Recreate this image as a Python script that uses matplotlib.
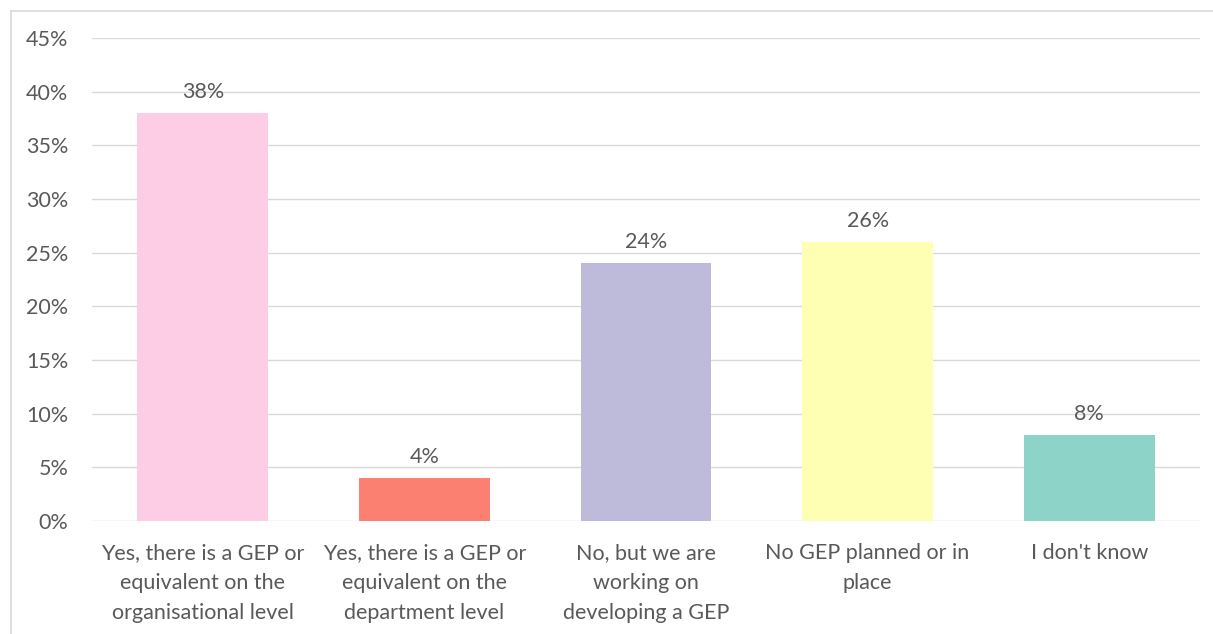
import matplotlib
matplotlib.use("Agg")
import matplotlib.pyplot as plt
from matplotlib.lines import Line2D

categories = [
    "Yes, there is a GEP or\nequivalent on the\norganisational level",
    "Yes, there is a GEP or\nequivalent on the\ndepartment level",
    "No, but we are\nworking on\ndeveloping a GEP",
    "No GEP planned or in\nplace",
    "I don't know",
]
values = [38, 4, 24, 26, 8]
colors = ["#fccde5", "#fb8072", "#bebada", "#ffffb3", "#8dd3c7"]
yticks = [0, 5, 10, 15, 20, 25, 30, 35, 40, 45]

plt.rcParams["font.family"] = ["Lato", "DejaVu Sans"]
text_color = "#595959"
grid_color = "#d9d9d9"
fs = 15.5

W, H = 1213, 634
fig = plt.figure(figsize=(W / 100, H / 100), dpi=100)
ax = fig.add_axes([92 / W, 1 - 521 / H, (1200 - 92) / W, (521 - 38) / H])

x = list(range(len(categories)))
bars = ax.bar(x, values, width=0.59, color=colors, zorder=3)

for xi, v in zip(x, values):
    ax.annotate(f"{v}%", (xi, v), xytext=(0, 8), textcoords="offset points",
                ha="center", va="bottom", fontsize=fs, color=text_color)

ax.set_xlim(-0.5, len(categories) - 0.5)
ax.set_ylim(0, 45)
ax.set_yticks(yticks)
ax.set_yticklabels([f"{t}%" for t in yticks], fontsize=fs, color=text_color)
ax.set_xticks(x)
ax.set_xticklabels(categories, fontsize=fs, color=text_color, linespacing=1.63)
ax.tick_params(axis="both", length=0)
ax.tick_params(axis="y", pad=17)
ax.tick_params(axis="x", pad=16)

ax.yaxis.grid(True, color=grid_color, linewidth=1, zorder=0)
for s in ax.spines.values():
    s.set_visible(False)

# outer frame (left and top edges)
fig.add_artist(Line2D([11 / W, 11 / W], [0, 1 - 11 / H], transform=fig.transFigure,
                      color=grid_color, linewidth=1.2))
fig.add_artist(Line2D([11 / W, 1], [1 - 11 / H, 1 - 11 / H], transform=fig.transFigure,
                      color=grid_color, linewidth=1.2))

fig.savefig("out.png", dpi=100, facecolor="white")
